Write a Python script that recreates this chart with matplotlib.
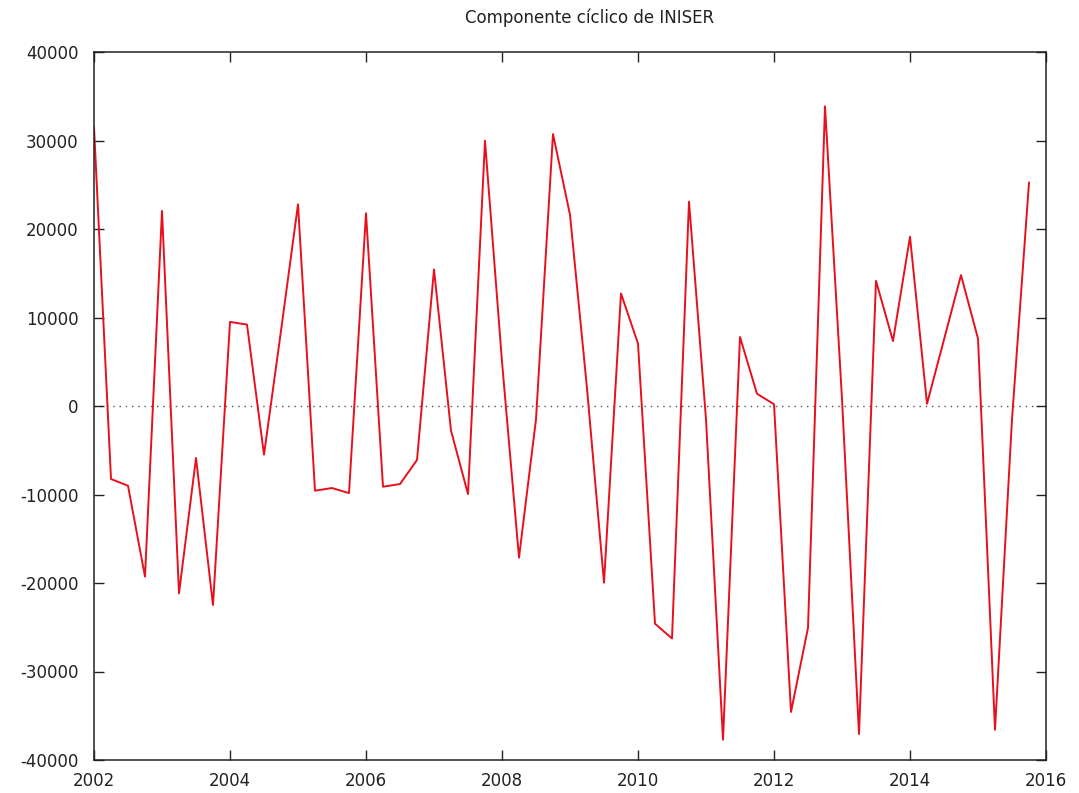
import numpy as np
import matplotlib
matplotlib.use("Agg")
import matplotlib.pyplot as plt

# Quarterly cyclical component, 2002Q1 .. 2015Q4
years = list(range(2002, 2016))
quarters = [1, 2, 3, 4]
ciclo = [
    31500, -8250, -9010, -19280,     # 2002
    22040, -21170, -5870, -22490,    # 2003
    9500, 9200, -5500, 8500,         # 2004
    22790, -9570, -9270, -9840,      # 2005
    21780, -9120, -8820, -6100,      # 2006
    15430, -2780, -9950, 29970,      # 2007
    5000, -17130, -1500, 30730,      # 2008
    21600, 2000, -19960, 12710,      # 2009
    7050, -24600, -26270, 23090,     # 2010
    -1500, -37710, 7800, 1380,       # 2011
    200, -34580, -25060, 33860,      # 2012
    800, -37070, 14140, 7340,        # 2013
    19130, 250, 7500, 14790,         # 2014
    7610, -36580, -1500, 25240,      # 2015
]
x_ticks = [2002, 2004, 2006, 2008, 2010, 2012, 2014, 2016]
y_ticks = [-40000, -30000, -20000, -10000, 0, 10000, 20000, 30000, 40000]
title = "Componente cíclico de INISER"

t = np.array([y + (q - 1) / 4 for y in years for q in quarters])

plt.rcParams['font.family'] = ['DejaVu Sans']
plt.rcParams['axes.unicode_minus'] = False
fig = plt.figure(figsize=(10.79, 7.93), dpi=100)
ax = fig.add_axes([94 / 1079, 1 - 760 / 793, (1046 - 94) / 1079, (760 - 52) / 793])

ax.axhline(0, color='#555555', lw=1.0, ls=(0, (1, 3.5)), zorder=1)
ax.plot(t, ciclo, color='#e8101c', lw=1.4, zorder=2)

ax.set_xlim(2002, 2016)
ax.set_ylim(-40000, 40000)
ax.set_xticks(x_ticks)
ax.set_yticks(y_ticks)
ax.tick_params(direction='in', length=7, width=1.0, top=True, right=True,
               labelsize=12, colors='#222222')
ax.tick_params(axis='y', pad=11)
ax.tick_params(axis='x', pad=9)
for s in ax.spines.values():
    s.set_linewidth(1.1)
    s.set_color('#222222')

fig.text(590 / 1079, 1 - 18 / 793, title, ha='center', va='center',
         fontsize=12, color='#222222')

fig.savefig("out.png", dpi=100, facecolor='white')
